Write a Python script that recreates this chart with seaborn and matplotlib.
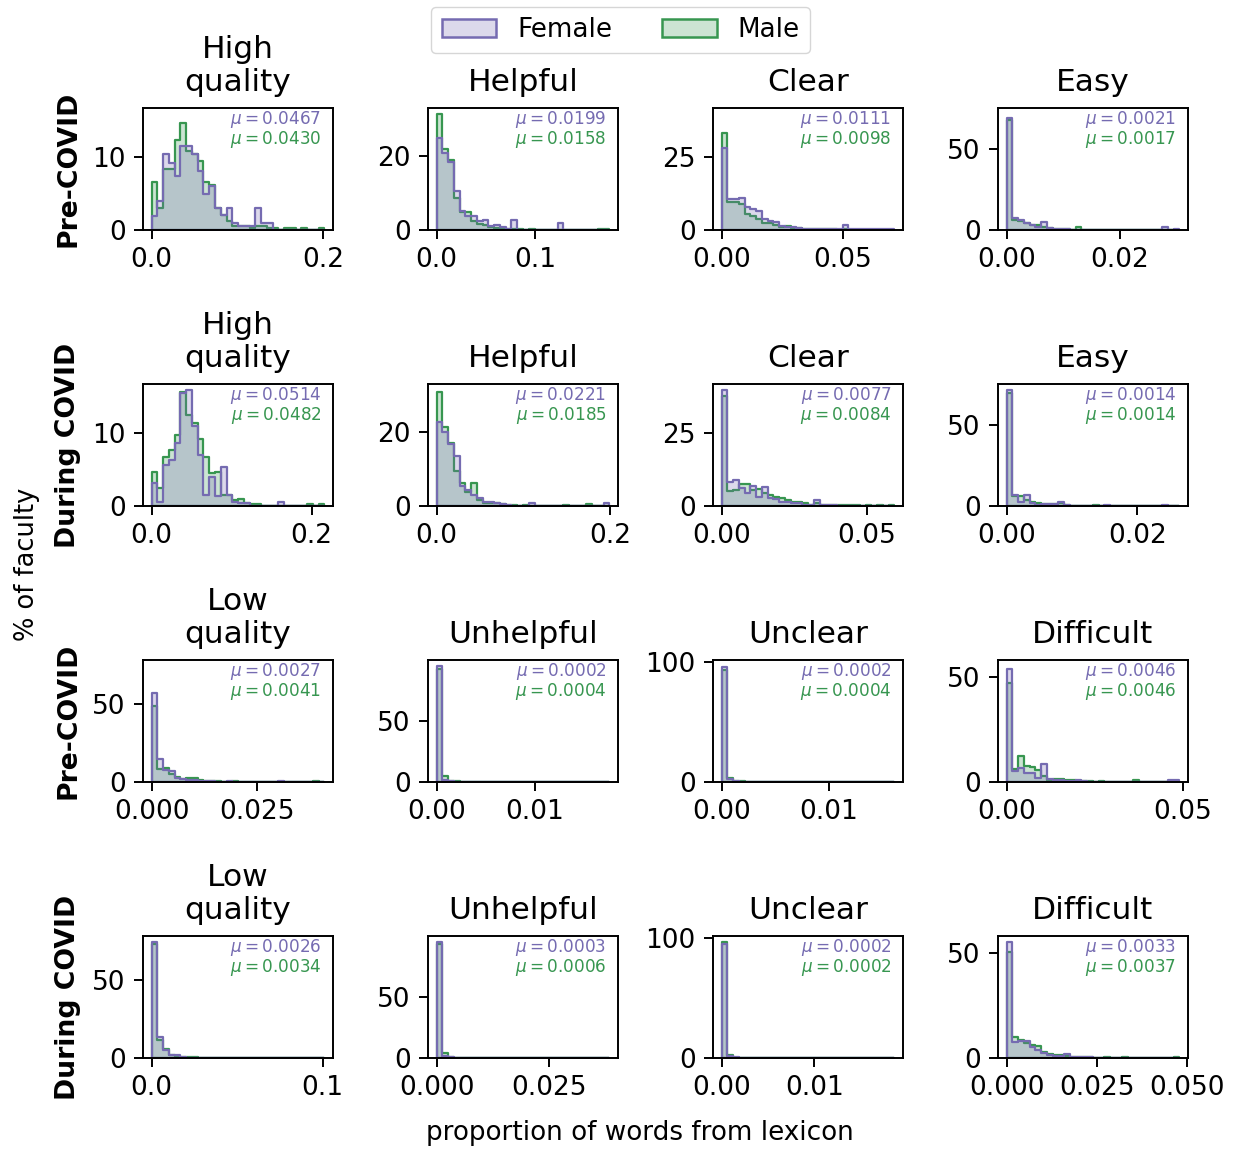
import matplotlib
matplotlib.use("Agg")
import matplotlib.pyplot as plt
from matplotlib.patches import Patch
from matplotlib.colors import to_rgba
import seaborn as sns
import numpy as np
import pandas as pd

sns.set_style("ticks")
plt.rcParams['font.family'] = ['DejaVu Sans']
plt.rcParams['text.color'] = 'black'
plt.rcParams['axes.labelcolor'] = 'black'

# colours
female_color = "#756bb1"
male_color = "#379650"
palette = {"Female": female_color, "Male": male_color}

# panel titles and row labels
titles_pos = ["High\nquality", "Helpful", "Clear", "Easy"]
titles_neg = ["Low\nquality", "Unhelpful", "Unclear", "Difficult"]
row_labels = ["Pre-COVID", "During COVID", "Pre-COVID", "During COVID"]

# upper end of the data range in each panel (30 equal bins from 0)
xmax = [
    [0.2015, 0.175, 0.0714, 0.0306],
    [0.216, 0.199, 0.0596, 0.0264],
    [0.0411, 0.0176, 0.0161, 0.049],
    [0.101, 0.0386, 0.0186, 0.048],
]

# tick values and labels
xticks = [
    [[0, 0.2], [0, 0.1], [0, 0.05], [0, 0.02]],
    [[0, 0.2], [0, 0.2], [0, 0.05], [0, 0.02]],
    [[0, 0.025], [0, 0.01], [0, 0.01], [0, 0.05]],
    [[0, 0.1], [0, 0.025], [0, 0.01], [0, 0.025, 0.05]],
]
xticklabels = [
    [["0.0", "0.2"], ["0.0", "0.1"], ["0.00", "0.05"], ["0.00", "0.02"]],
    [["0.0", "0.2"], ["0.0", "0.2"], ["0.00", "0.05"], ["0.00", "0.02"]],
    [["0.000", "0.025"], ["0.00", "0.01"], ["0.00", "0.01"], ["0.00", "0.05"]],
    [["0.0", "0.1"], ["0.000", "0.025"], ["0.00", "0.01"], ["0.000", "0.025", "0.050"]],
]
yticks = [
    [[0, 10], [0, 20], [0, 25], [0, 50]],
    [[0, 10], [0, 20], [0, 25], [0, 50]],
    [[0, 50], [0, 50], [0, 100], [0, 50]],
    [[0, 50], [0, 50], [0, 100], [0, 50]],
]

# means shown in each panel (female, male)
means = [
    [("0.0467", "0.0430"), ("0.0199", "0.0158"), ("0.0111", "0.0098"), ("0.0021", "0.0017")],
    [("0.0514", "0.0482"), ("0.0221", "0.0185"), ("0.0077", "0.0084"), ("0.0014", "0.0014")],
    [("0.0027", "0.0041"), ("0.0002", "0.0004"), ("0.0002", "0.0004"), ("0.0046", "0.0046")],
    [("0.0026", "0.0034"), ("0.0003", "0.0006"), ("0.0002", "0.0002"), ("0.0033", "0.0037")],
]

# % of faculty per bin (30 bins)
hq_pre_f = [1.9, 4.0, 10.4, 9.2, 7.4, 11.5, 11.5, 10.4, 8.1, 4.9, 6.0, 3.0, 2.0, 3.0, 1.0, 0.5, 0.5, 0.5, 3.0, 1.0, 1.0, 0, 0, 0, 0, 0, 0, 0, 0, 0]
hq_pre_m = [6.6, 3.0, 8.3, 8.3, 12.3, 14.7, 10.8, 10.4, 9.4, 6.5, 6.2, 3.0, 2.1, 1.2, 0.5, 0.5, 0.5, 0.3, 0.5, 0.5, 0.3, 0.3, 0, 0.3, 0.3, 0, 0.3, 0, 0, 0.3]
help_pre_f = [24.9, 21.0, 18.4, 10.5, 5.1, 3.8, 3.8, 2.4, 2.8, 1.0, 1.3, 0.7, 0.3, 2.8, 0, 0, 0, 0, 0, 0, 0, 1.9, 0, 0, 0, 0, 0, 0, 0, 0]
help_pre_m = [31.5, 22.0, 19.0, 8.8, 5.0, 5.0, 2.4, 1.5, 1.3, 0.7, 0.5, 0.5, 0.3, 0.3, 0.3, 0, 0.3, 0, 0, 0, 0, 0, 0, 0, 0, 0, 0, 0, 0.3, 0.3]
clear_pre_f = [27.9, 10.5, 10.5, 11.1, 7.9, 7.1, 6.5, 3.6, 3.0, 2.8, 1.3, 0.9, 0.9, 0.7, 0.5, 0.5, 0.5, 0.3, 0.5, 0.3, 0.3, 1.8, 0.5, 0.5, 0.5, 0.5, 0.3, 0.3, 0.5, 0.5]
clear_pre_m = [33.0, 9.4, 9.4, 8.8, 5.3, 4.7, 3.6, 2.4, 2.4, 1.6, 0.9, 1.3, 0.7, 0.7, 0.5, 0.5, 0.3, 0.3, 0.3, 0.3, 0, 0.3, 0, 0, 0, 0, 0, 0, 0, 0]
easy_pre_f = [69.5, 7.6, 6.5, 4.4, 3.4, 1.7, 5.0, 1.3, 0.5, 0.5, 0.5, 0, 0, 0, 0, 0, 0, 0, 0, 0, 0, 0, 0, 0, 0, 0, 0, 1.7, 0, 0.5]
easy_pre_m = [68.0, 6.5, 5.5, 4.4, 3.0, 3.0, 1.7, 1.3, 0.5, 0.5, 0.5, 0.3, 1.7, 0.3, 0, 0, 0, 0, 0, 0, 0, 0, 0, 0, 0, 0, 0, 0, 0, 0]

hq_dur_f = [3.1, 0.6, 5.6, 6.3, 8.6, 15.4, 15.9, 10.9, 7.0, 1.5, 4.0, 1.3, 5.4, 1.5, 0.6, 0.4, 0.4, 0, 0, 0, 0, 0, 0.6, 0, 0, 0, 0, 0, 0, 0]
hq_dur_m = [4.7, 2.4, 6.7, 7.6, 9.7, 15.6, 12.4, 11.4, 9.1, 6.7, 4.5, 4.7, 1.5, 1.5, 0.8, 0.9, 0.4, 0.3, 0.3, 0, 0, 0, 0, 0, 0, 0, 0, 0.3, 0, 0.3]
help_dur_f = [22.8, 20.0, 16.8, 13.6, 5.3, 4.4, 3.0, 2.1, 1.2, 1.2, 0.9, 0.5, 0.3, 0, 0, 0, 0.7, 0, 0, 0, 0, 0, 0, 0, 0, 0, 0, 0, 0, 0.7]
help_dur_m = [30.8, 21.4, 17.2, 9.4, 6.2, 3.9, 6.1, 1.7, 0.9, 0.9, 0.7, 0.5, 0.3, 0.3, 0, 0.3, 0, 0, 0, 0, 0, 0, 0.3, 0, 0, 0, 0.5, 0, 0, 0]
clear_dur_f = [39.7, 8.1, 9.0, 6.1, 4.4, 6.7, 3.2, 6.5, 2.7, 2.3, 1.2, 1.2, 0.9, 0.9, 0.5, 0.5, 1.9, 0.3, 0.3, 0.3, 0, 0, 0, 0, 0, 0, 0, 0, 0, 0]
clear_dur_m = [37.5, 5.0, 5.3, 7.6, 7.4, 5.3, 5.9, 4.4, 3.8, 3.2, 2.7, 1.9, 1.5, 1.2, 0.9, 0.5, 0.9, 0.5, 0.3, 0.3, 0.5, 0.3, 0.3, 0.3, 0, 0.3, 0, 0.3, 0, 0.3]
easy_dur_f = [72.0, 6.9, 2.7, 6.9, 1.7, 0.5, 1.0, 1.0, 1.0, 2.7, 0.5, 0, 0, 0, 0, 0, 0, 0.5, 0, 0, 0, 0, 0, 0, 0, 0, 0, 0.5, 0, 0]
easy_dur_m = [70.0, 6.3, 5.9, 3.8, 2.7, 2.0, 1.0, 1.0, 1.0, 1.7, 0.5, 0.3, 0.3, 0, 0, 0.6, 0, 0, 0, 0, 0, 0, 0, 0, 0, 0, 0, 0, 0, 0]

lq_pre_f = [57.0, 14.9, 7.9, 7.2, 2.8, 2.2, 1.5, 1.2, 0.8, 0.5, 0.5, 0.3, 0.3, 0.5, 0.3, 0, 0, 0, 0, 0, 0, 0, 0.8, 0, 0, 0, 0, 0, 0, 0]
lq_pre_m = [49.0, 8.3, 8.8, 5.0, 3.5, 1.8, 2.5, 2.5, 1.5, 0.7, 0.5, 0.5, 0.3, 0.3, 0.5, 0.3, 0, 0, 0, 0.3, 0.3, 0, 0, 0, 0, 0, 0, 0, 0.5, 0]
unhelp_pre_f = [95.0, 2.0, 0.5, 0.3, 0.3, 0, 0.3, 0, 0, 0, 0, 0, 0, 0, 0, 0, 0, 0, 0, 0, 0, 0, 0, 0, 0, 0, 0, 0, 0, 0]
unhelp_pre_m = [92.0, 4.5, 0.8, 0.5, 0.3, 0.3, 0.3, 0, 0, 0, 0, 0, 0, 0, 0, 0, 0, 0, 0, 0.3, 0, 0, 0, 0, 0, 0, 0.3, 0, 0, 0.3]
unclear_pre_f = [95.5, 2.5, 0.5, 0.3, 0.3, 0.3, 0, 0, 0, 0.3, 0, 0, 0, 0, 0, 0, 0, 0, 0, 0, 0, 0, 0, 0, 0, 0, 0, 0, 0, 0]
unclear_pre_m = [93.0, 3.5, 1.0, 0.5, 0.3, 0.3, 0.3, 0, 0, 0, 0, 0, 0.3, 0, 0, 0, 0, 0, 0, 0, 0, 0, 0, 0, 0, 0, 0, 0, 0, 0.3]
diff_pre_f = [53.6, 5.4, 6.5, 4.5, 4.5, 2.1, 8.6, 1.3, 0.8, 0.8, 0.5, 0.5, 0.8, 0.5, 0, 0, 0, 0, 0, 0, 0, 0, 0, 0, 0, 0, 0, 0, 0.8, 0.8]
diff_pre_m = [46.8, 6.2, 12.3, 7.8, 7.0, 5.8, 2.9, 1.0, 1.6, 1.6, 1.0, 0.8, 0.3, 0.3, 0.3, 0, 0.5, 0, 0, 0, 0, 0, 0.8, 0, 0, 0, 0, 0, 0, 0]

lq_dur_f = [74.6, 13.8, 5.0, 1.8, 1.8, 0.5, 0.3, 0.3, 0.3, 0, 0, 0, 0, 0, 0, 0, 0, 0, 0, 0, 0, 0, 0, 0, 0, 0, 0, 0, 0, 0]
lq_dur_m = [73.0, 11.6, 5.7, 2.2, 0.7, 0.7, 0.4, 0.4, 0.3, 0.3, 0, 0, 0, 0, 0, 0, 0.3, 0, 0, 0, 0.3, 0, 0, 0.3, 0, 0, 0.3, 0, 0, 0.3]
unhelp_dur_f = [95.0, 2.0, 0.5, 0.3, 0.3, 0.3, 0, 0, 0, 0, 0, 0, 0, 0, 0, 0, 0, 0, 0, 0, 0, 0, 0, 0, 0, 0, 0, 0, 0, 0]
unhelp_dur_m = [93.0, 4.0, 0.5, 0.3, 0.3, 0, 0, 0, 0, 0, 0.3, 0, 0, 0, 0, 0, 0.3, 0, 0, 0, 0, 0, 0, 0, 0, 0, 0, 0, 0, 0.3]
unclear_dur_f = [95.0, 2.0, 0.5, 0.3, 0.3, 0, 0, 0, 0, 0, 0, 0, 0, 0, 0, 0, 0, 0, 0, 0, 0, 0, 0, 0, 0, 0, 0, 0, 0, 0]
unclear_dur_m = [96.5, 2.5, 0.3, 0.3, 0, 0, 0, 0, 0, 0, 0, 0, 0, 0, 0, 0, 0, 0, 0, 0, 0, 0, 0, 0, 0, 0, 0, 0, 0, 0.3]
diff_dur_f = [55.1, 7.7, 8.2, 8.2, 5.3, 3.7, 2.4, 1.6, 1.0, 0.8, 2.1, 0.5, 0.5, 0.5, 0.3, 0, 0, 0, 0, 0, 0, 0, 0, 0, 0, 0, 0, 0, 0, 0]
diff_dur_m = [50.3, 9.8, 8.5, 6.9, 6.1, 5.6, 2.9, 2.0, 1.3, 1.2, 0.8, 0.5, 0.3, 0.3, 0.3, 0, 0, 0.3, 0, 0, 0.3, 0, 0, 0, 0, 0, 0, 0, 0, 0.3]

female = [
    [hq_pre_f, help_pre_f, clear_pre_f, easy_pre_f],
    [hq_dur_f, help_dur_f, clear_dur_f, easy_dur_f],
    [lq_pre_f, unhelp_pre_f, unclear_pre_f, diff_pre_f],
    [lq_dur_f, unhelp_dur_f, unclear_dur_f, diff_dur_f],
]
male = [
    [hq_pre_m, help_pre_m, clear_pre_m, easy_pre_m],
    [hq_dur_m, help_dur_m, clear_dur_m, easy_dur_m],
    [lq_pre_m, unhelp_pre_m, unclear_pre_m, diff_pre_m],
    [lq_dur_m, unhelp_dur_m, unclear_dur_m, diff_dur_m],
]

fig, axes = plt.subplots(4, 4, figsize=(12.34, 11.5), dpi=100)
fig.subplots_adjust(left=0.1159, right=0.9627, top=0.9061, bottom=0.08,
                    wspace=0.5, hspace=1.262)

# pre / during pairs share the y axis within a column
for c in range(4):
    axes[1, c].sharey(axes[0, c])
    axes[3, c].sharey(axes[2, c])

tick_fs = 19
for r in range(4):
    for c in range(4):
        ax = axes[r, c]
        edges = np.linspace(0, xmax[r][c], 31)
        centers = (edges[:-1] + edges[1:]) / 2
        df = pd.DataFrame({
            "x": np.concatenate([centers, centers]),
            "pct": list(female[r][c]) + list(male[r][c]),
            "gender": ["Female"] * 30 + ["Male"] * 30,
        })
        sns.histplot(data=df, x="x", weights="pct", hue="gender",
                     hue_order=["Female", "Male"], palette=palette,
                     bins=list(edges), element="step", fill=True,
                     linewidth=1.6, legend=False, ax=ax)

        ax.set_xticks(xticks[r][c])
        ax.set_xticklabels(xticklabels[r][c])
        ax.set_yticks(yticks[r][c])
        ax.set_yticklabels([str(v) for v in yticks[r][c]])
        ax.tick_params(labelsize=tick_fs, width=1.4, length=6.5, pad=6, colors="black")
        for s in ax.spines.values():
            s.set_linewidth(1.4)
            s.set_color("black")
        ax.set_xlabel("")
        ax.set_ylabel("")

        title = titles_pos[c] if r < 2 else titles_neg[c]
        ax.set_title(title, fontsize=22.5, pad=12, color="black")

        mf, mm = means[r][c]
        ax.text(0.94, 0.995, r"$\mu = $" + mf, transform=ax.transAxes,
                ha="right", va="top", fontsize=12.2, color=female_color)
        ax.text(0.94, 0.83, r"$\mu = $" + mm, transform=ax.transAxes,
                ha="right", va="top", fontsize=12.2, color=male_color)

    axes[r, 0].set_ylabel(row_labels[r], fontsize=19.2, fontweight="bold", labelpad=8)

fig.text(0.022, 0.5096, "% of faculty", rotation=90, ha="center", va="center", fontsize=18.5)
fig.text(0.5186, 0.0148, "proportion of words from lexicon", ha="center", va="center", fontsize=18.9)

handles = [
    Patch(facecolor=to_rgba(female_color, 0.25), edgecolor=female_color, linewidth=1.8, label="Female"),
    Patch(facecolor=to_rgba(male_color, 0.25), edgecolor=male_color, linewidth=1.8, label="Male"),
]
fig.legend(handles=handles, loc="upper center", bbox_to_anchor=(0.503, 1.0057),
           ncol=2, fontsize=18.8, columnspacing=1.9, handlelength=2.1)

fig.savefig("out.png", dpi=100)
